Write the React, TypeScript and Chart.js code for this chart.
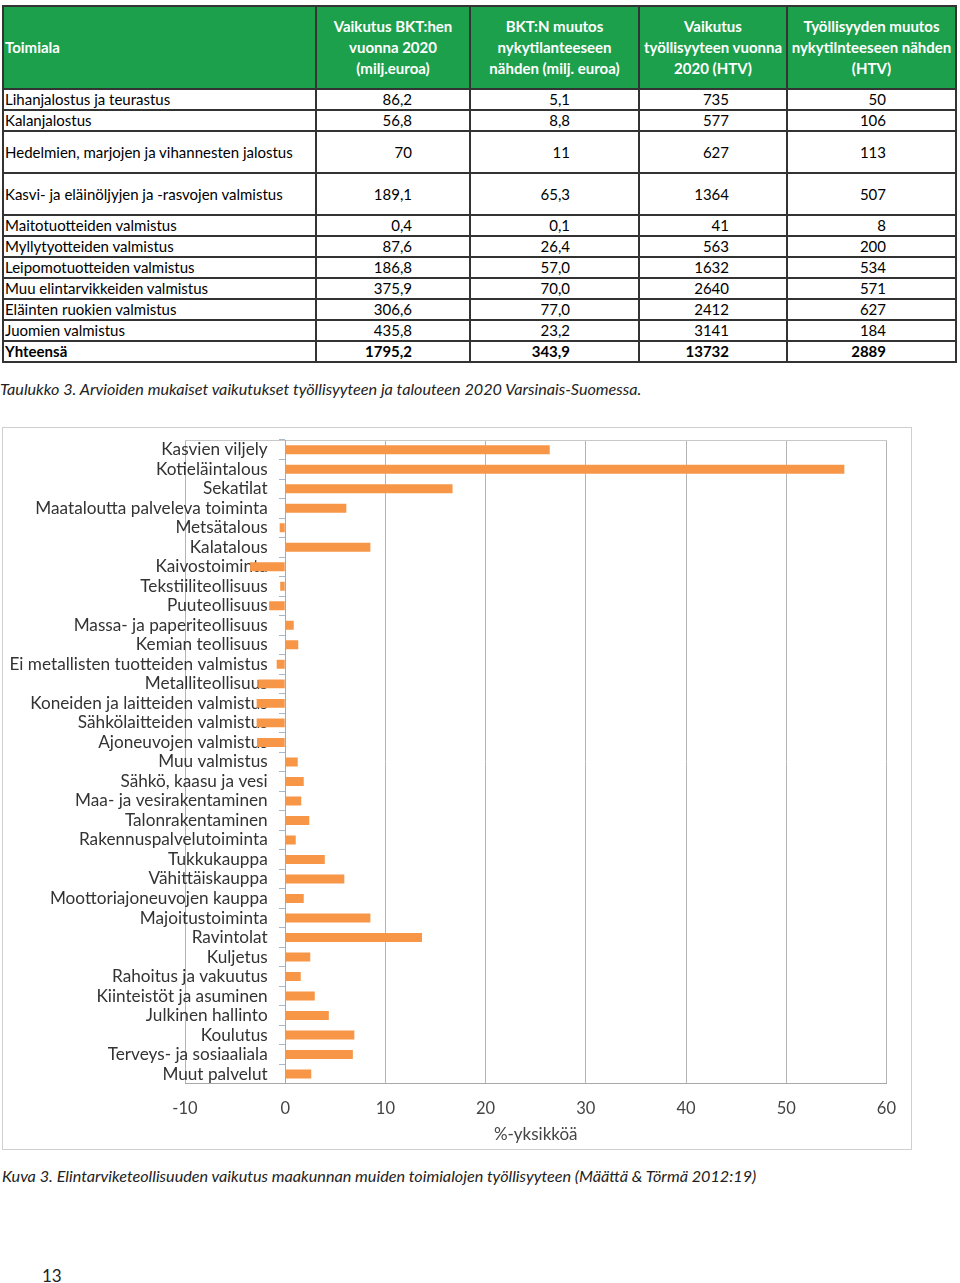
import React, { useEffect, useRef } from "react";
import { Chart, registerables } from "chart.js";

Chart.register(...registerables);

// ---------- Table data ----------
const tableHeaders: string[][] = [
  ["Toimiala"],
  ["Vaikutus BKT:hen", "vuonna 2020", "(milj.euroa)"],
  ["BKT:N muutos", "nykytilanteeseen", "nähden (milj. euroa)"],
  ["Vaikutus", "työllisyyteen vuonna", "2020 (HTV)"],
  ["Työllisyyden muutos", "nykytilnteeseen nähden", "(HTV)"],
];
const tableSectors = [
  "Lihanjalostus ja teurastus",
  "Kalanjalostus",
  "Hedelmien, marjojen ja vihannesten jalostus",
  "Kasvi- ja eläinöljyjen ja -rasvojen valmistus",
  "Maitotuotteiden valmistus",
  "Myllytyotteiden valmistus",
  "Leipomotuotteiden valmistus",
  "Muu elintarvikkeiden valmistus",
  "Eläinten ruokien valmistus",
  "Juomien valmistus",
  "Yhteensä",
];
const bktImpact = ["86,2", "56,8", "70", "189,1", "0,4", "87,6", "186,8", "375,9", "306,6", "435,8", "1795,2"];
const bktChange = ["5,1", "8,8", "11", "65,3", "0,1", "26,4", "57,0", "70,0", "77,0", "23,2", "343,9"];
const employmentImpact = ["735", "577", "627", "1364", "41", "563", "1632", "2640", "2412", "3141", "13732"];
const employmentChange = ["50", "106", "113", "507", "8", "200", "534", "571", "627", "184", "2889"];
const tallRows = [2, 3];

// ---------- Chart data ----------
const categories = [
  "Kasvien viljely",
  "Kotieläintalous",
  "Sekatilat",
  "Maataloutta palveleva toiminta",
  "Metsätalous",
  "Kalatalous",
  "Kaivostoiminta",
  "Tekstiiliteollisuus",
  "Puuteollisuus",
  "Massa- ja paperiteollisuus",
  "Kemian teollisuus",
  "Ei metallisten tuotteiden valmistus",
  "Metalliteollisuus",
  "Koneiden ja laitteiden valmistus",
  "Sähkölaitteiden valmistus",
  "Ajoneuvojen valmistus",
  "Muu valmistus",
  "Sähkö, kaasu ja vesi",
  "Maa- ja vesirakentaminen",
  "Talonrakentaminen",
  "Rakennuspalvelutoiminta",
  "Tukkukauppa",
  "Vähittäiskauppa",
  "Moottoriajoneuvojen kauppa",
  "Majoitustoiminta",
  "Ravintolat",
  "Kuljetus",
  "Rahoitus ja vakuutus",
  "Kiinteistöt ja asuminen",
  "Julkinen hallinto",
  "Koulutus",
  "Terveys- ja sosiaaliala",
  "Muut palvelut",
];
const employmentEffect = [
  26.4, 55.8, 16.7, 6.1, -0.55, 8.5, -3.5, -0.5, -1.6, 0.85, 1.3, -0.85, -2.7, -2.85, -2.85, -2.8,
  1.25, 1.85, 1.6, 2.4, 1.05, 3.95, 5.9, 1.85, 8.5, 13.65, 2.5, 1.55, 2.95, 4.35, 6.9, 6.75, 2.6,
];
const xAxisMin = -10;
const xAxisMax = 60;
const xAxisStep = 10;
const xAxisTitle = "%-yksikköä";
const labelAnchorValue = -1.75;

const tableCaption =
  "Taulukko 3. Arvioiden mukaiset vaikutukset työllisyyteen ja talouteen 2020 Varsinais-Suomessa.";
const chartCaption =
  "Kuva 3. Elintarviketeollisuuden vaikutus maakunnan muiden toimialojen työllisyyteen (Määttä & Törmä 2012:19)";
const pageNumber = "13";

const FONT = "Lato, 'Open Sans', sans-serif";

function BarChart() {
  const ref = useRef<HTMLCanvasElement>(null);
  useEffect(() => {
    const chart = new Chart(ref.current!, {
      type: "bar",
      data: {
        labels: categories,
        datasets: [
          {
            data: employmentEffect,
            backgroundColor: "#F79646",
            borderWidth: 0,
            barPercentage: 0.46,
            categoryPercentage: 1,
          },
        ],
      },
      options: {
        indexAxis: "y",
        animation: false,
        responsive: false,
        devicePixelRatio: 1,
        layout: { padding: { left: 182, right: 22, top: 4, bottom: 4 } },
        plugins: { legend: { display: false }, tooltip: { enabled: false } },
        scales: {
          x: {
            type: "linear",
            min: xAxisMin,
            max: xAxisMax,
            ticks: {
              stepSize: xAxisStep,
              padding: 15,
              color: "#444",
              font: { family: FONT, size: 16.5 },
            },
            grid: { color: "#b4b4b4", drawTicks: false },
            border: { color: "#a8a8a8" },
            title: {
              display: true,
              text: xAxisTitle,
              color: "#444",
              font: { family: FONT, size: 17 },
              padding: { top: -9, bottom: 0 },
            },
          },
          x2: {
            type: "linear",
            position: "top",
            min: xAxisMin,
            max: xAxisMax,
            ticks: { display: false },
            grid: { display: false },
            border: { display: true, color: "#c8c8c8" },
          },
          y: {
            type: "category",
            position: { x: 0 } as any,
            offset: true,
            ticks: { display: false, padding: 0 },
            grid: {
              display: true,
              drawOnChartArea: false,
              drawTicks: true,
              tickLength: 6,
              offset: true,
              color: "#a8b8cc",
            },
            border: { display: true, color: "#a8a8a8" },
          },
          yLabels: {
            type: "category",
            labels: categories,
            position: { x: labelAnchorValue } as any,
            offset: true,
            ticks: {
              autoSkip: false,
              padding: 0,
              color: "#333",
              font: { family: FONT, size: 17.2, lineHeight: 1 },
            },
            grid: { display: false },
            border: { display: false },
          },
        },
      } as any,
    });
    return () => chart.destroy();
  }, []);
  return <canvas ref={ref} width={908} height={721} style={{ display: "block" }} />;
}

const colWidths = [313, 154, 169, 148, 169];
const colPadRight = [0, 57, 68, 57, 69];

export default function App() {
  const border = "2px solid #333";
  return (
    <div
      style={{
        position: "absolute",
        left: 0,
        top: 0,
        width: 960,
        height: 1283,
        background: "#fff",
        fontFamily: FONT,
        color: "#000",
      }}
    >
      <table
        style={{
          position: "absolute",
          left: 2,
          top: 5,
          width: 953,
          borderCollapse: "collapse",
          tableLayout: "fixed",
          fontSize: 15,
        }}
      >
        <colgroup>
          {colWidths.map((w, i) => (
            <col key={i} style={{ width: w }} />
          ))}
        </colgroup>
        <tbody>
          <tr style={{ height: 83 }}>
            {tableHeaders.map((lines, i) => (
              <td
                key={i}
                style={{
                  border,
                  background: "#1DA04C",
                  color: "#fff",
                  fontWeight: 700,
                  fontSize: 15,
                  lineHeight: "21px",
                  textAlign: i === 0 ? "left" : "center",
                  padding: i === 0 ? "0 0 0 1px" : 0,
                  whiteSpace: "nowrap",
                  verticalAlign: "middle",
                }}
              >
                {lines.map((l, j) => (
                  <div key={j}>{l}</div>
                ))}
              </td>
            ))}
          </tr>
          {tableSectors.map((name, r) => {
            const vals = [name, bktImpact[r], bktChange[r], employmentImpact[r], employmentChange[r]];
            const bold = r === tableSectors.length - 1;
            return (
              <tr key={r} style={{ height: tallRows.includes(r) ? 42 : 21 }}>
                {vals.map((v, c) => (
                  <td
                    key={c}
                    style={{
                      border,
                      padding: c === 0 ? "0 0 0 1px" : `0 ${colPadRight[c]}px 0 0`,
                      textAlign: c === 0 ? "left" : "right",
                      whiteSpace: "nowrap",
                      fontWeight: bold ? 700 : 400,
                      lineHeight: "17px",
                      verticalAlign: "middle",
                    }}
                  >
                    {v}
                  </td>
                ))}
              </tr>
            );
          })}
        </tbody>
      </table>
      <div
        style={{
          position: "absolute",
          left: 0,
          top: 379,
          fontStyle: "italic",
          fontSize: 16.2,
          color: "#222",
          whiteSpace: "nowrap",
        }}
      >
        {tableCaption}
      </div>
      <div
        style={{
          position: "absolute",
          left: 2,
          top: 427,
          width: 908,
          height: 721,
          border: "1px solid #cfcfcf",
          background: "#fff",
        }}
      >
        <BarChart />
      </div>
      <div
        style={{
          position: "absolute",
          left: 2,
          top: 1166,
          fontStyle: "italic",
          fontSize: 16.2,
          color: "#222",
          whiteSpace: "nowrap",
        }}
      >
        {chartCaption}
      </div>
      <div style={{ position: "absolute", left: 42, top: 1265, fontSize: 17, color: "#222" }}>
        {pageNumber}
      </div>
    </div>
  );
}
